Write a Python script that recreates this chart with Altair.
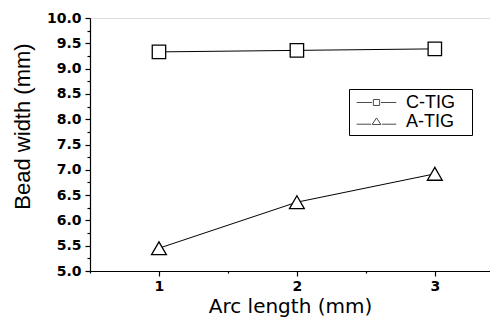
import altair as alt
import pandas as pd

arc_length = [1, 2, 3]
c_tig = [9.33, 9.36, 9.39]
a_tig = [5.45, 6.36, 6.92]
series = ["C-TIG", "A-TIG"]

rows = []
for a, v in zip(arc_length, c_tig):
    rows.append({"arc": a, "width": v, "process": "C-TIG"})
for a, v in zip(arc_length, a_tig):
    rows.append({"arc": a, "width": v, "process": "A-TIG"})
df = pd.DataFrame(rows)

y_ticks = [5 + 0.25 * i for i in range(21)]
x_ticks = [0.5, 1, 1.5, 2, 2.5, 3]

x_enc = alt.X(
    "arc:Q",
    scale=alt.Scale(domain=[0.5, 3.4], nice=False, zero=False),
    axis=alt.Axis(
        title="Arc length (mm)",
        values=x_ticks,
        labelExpr="datum.value % 1 == 0 ? format(datum.value, 'd') : ''",
        tickSize={"condition": {"test": "datum.value % 1 != 0", "value": 2}, "value": 5},
        grid=False,
        labelFont="DejaVu Sans",
        labelFontWeight="bold",
        labelFontSize=14,
        labelColor="black",
        labelPadding=3,
        titleFont="DejaVu Sans",
        titleFontSize=20,
        titleFontWeight="normal",
        titleColor="black",
        titlePadding=3,
        domainColor="black",
        domainWidth=1.2,
        tickColor="black",
        tickWidth=1.2,
        labelFlush=False,
    ),
)
y_enc = alt.Y(
    "width:Q",
    scale=alt.Scale(domain=[5, 10], nice=False, zero=False),
    axis=alt.Axis(
        title="Bead width (mm)",
        values=y_ticks,
        labelExpr="datum.value % 0.5 == 0 ? format(datum.value, '.1f') : ''",
        tickSize={"condition": {"test": "datum.value % 0.5 != 0", "value": 3}, "value": 5},
        grid=False,
        labelFont="DejaVu Sans",
        labelFontWeight="bold",
        labelFontSize=14,
        labelColor="black",
        labelPadding=4,
        titleFont="Liberation Sans",
        titleFontSize=22,
        titleFontWeight="normal",
        titleColor="black",
        titleAngle=270,
        titleX=-68,
        titleY=108,
        titleAlign="center",
        titleBaseline="middle",
        domainColor="black",
        domainWidth=1.2,
        tickColor="black",
        tickWidth=1.2,
        labelFlush=False,
    ),
)

base = alt.Chart(df)

lines = base.mark_line(color="black", strokeWidth=1).encode(
    x=x_enc, y=y_enc, detail="process:N"
)

pts_c = base.transform_filter(alt.datum.process == "C-TIG").mark_point(
    shape="square", filled=True, fill="white", stroke="black", strokeWidth=1.3, size=180, opacity=1
).encode(x=x_enc, y=y_enc)

pts_a = base.transform_filter(alt.datum.process == "A-TIG").mark_point(
    shape="triangle-up", filled=True, fill="white", stroke="black", strokeWidth=1.3, size=220, opacity=1
).encode(x=x_enc, y=y_enc)

# legend symbols: line segment with small marker, unit = 9px
sq_path = "M-2.2,0H-0.5M0.5,0H2.2M-0.35,-0.33H0.35V0.33H-0.35Z"
tri_path = "M-2.2,0.3H-0.6M0.6,0.3H2.2M-0.48,0.33L0,-0.4L0.48,0.33Z"

legend_layer = base.transform_filter("false").mark_point(
    filled=False, color="black", strokeWidth=1
).encode(
    x=x_enc,
    y=y_enc,
    shape=alt.Shape(
        "process:N",
        scale=alt.Scale(domain=series, range=[sq_path, tri_path]),
        legend=alt.Legend(
            title=None,
            orient="none",
            legendX=259,
            legendY=71,
            strokeColor="black",
            fillColor="white",
            padding=4,
            symbolSize=324,
            symbolOffset=14,
            symbolStrokeColor="black",
            symbolStrokeWidth=1,
            symbolFillColor="white",
            labelFont="Liberation Sans",
            labelFontSize=18,
            labelColor="black",
            labelOffset=20,
            labelExpr="datum.label + '\u2800'",
            rowPadding=0,
            cornerRadius=0,
        ),
    ),
)

chart = (
    alt.layer(lines, pts_c, pts_a, legend_layer)
    .properties(
        width=400,
        height=253,
        autosize=alt.AutoSizeParams(type="none"),
        padding={"left": 82, "top": 10, "right": 0, "bottom": 48},
    )
    .configure_view(stroke=None)
    .configure(background="white")
)

chart.save("out.html", embed_options={"renderer": "svg", "actions": False})
